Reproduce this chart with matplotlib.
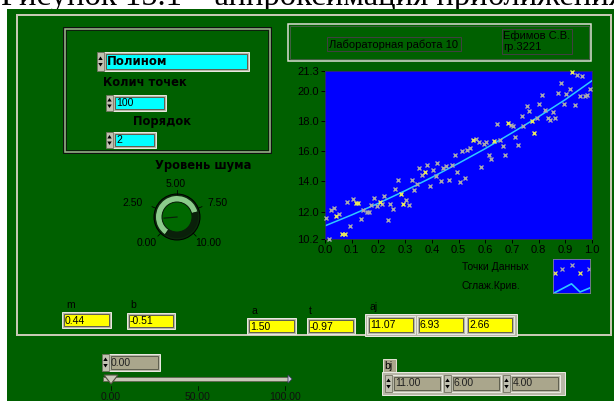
import numpy as np
import matplotlib
matplotlib.use("Agg")
import matplotlib.pyplot as plt
from matplotlib.patches import Rectangle, Circle, Wedge, Polygon

# ---------------- data ----------------
x_pts = [0.004, 0.014, 0.021, 0.035, 0.041, 0.054, 0.062, 0.075, 0.081, 0.094,
         0.103, 0.115, 0.125, 0.133, 0.143, 0.156, 0.165, 0.172, 0.182, 0.196,
         0.206, 0.214, 0.222, 0.236, 0.243, 0.253, 0.262, 0.274, 0.284, 0.294,
         0.304, 0.313, 0.325, 0.333, 0.345, 0.352, 0.364, 0.374, 0.383, 0.395,
         0.403, 0.415, 0.421, 0.434, 0.443, 0.455, 0.465, 0.474, 0.486, 0.493,
         0.505, 0.514, 0.524, 0.532, 0.544, 0.555, 0.564, 0.576, 0.585, 0.595,
         0.603, 0.613, 0.623, 0.633, 0.646, 0.655, 0.665, 0.673, 0.685, 0.695,
         0.704, 0.713, 0.723, 0.736, 0.743, 0.756, 0.763, 0.776, 0.783, 0.794,
         0.803, 0.814, 0.825, 0.835, 0.844, 0.854, 0.863, 0.873, 0.885, 0.894,
         0.904, 0.916, 0.925, 0.935, 0.944, 0.954, 0.963, 0.974, 0.983, 0.994]
y_pts = [11.61, 10.20, 12.09, 12.22, 11.72, 11.83, 10.53, 10.53, 12.62, 11.06,
         12.86, 12.55, 12.55, 11.54, 12.11, 12.00, 11.96, 12.42, 12.93, 12.35,
         12.62, 12.49, 13.04, 11.47, 12.49, 12.16, 13.52, 14.07, 13.17, 12.49,
         12.75, 12.42, 14.07, 13.41, 13.83, 14.90, 14.42, 14.60, 15.06, 13.70,
         14.79, 14.35, 15.19, 14.00, 14.90, 15.01, 14.07, 15.06, 15.78, 14.60,
         13.94, 16.00, 14.24, 16.07, 16.24, 16.71, 16.84, 16.60, 14.97, 16.46,
         16.60, 15.72, 15.50, 16.66, 17.81, 16.71, 16.33, 15.78, 17.89, 17.76,
         17.67, 16.95, 16.40, 18.33, 17.67, 18.97, 18.68, 18.02, 17.19, 18.22,
         19.10, 19.70, 18.75, 18.20, 18.05, 18.62, 18.20, 19.87, 20.49, 19.10,
         19.81, 20.14, 21.23, 19.06, 21.04, 19.65, 20.99, 19.65, 19.72, 20.14]
yellow_idx = [4, 6, 7, 11, 12, 20, 28, 29, 37, 55, 63, 68, 77, 78, 92]

fit_x = [0.0, 0.1, 0.2, 0.3, 0.4, 0.5, 0.6, 0.7, 0.8, 0.9, 1.0]
fit_y = [11.07, 11.79, 12.56, 13.39, 14.27, 15.20, 16.17, 17.21, 18.28, 19.41, 20.66]

x_ticks = [0.0, 0.1, 0.2, 0.3, 0.4, 0.5, 0.6, 0.7, 0.8, 0.9, 1.0]
y_ticks = [10.2, 12.0, 14.0, 16.0, 18.0, 20.0, 21.3]

knob_labels = ["0.00", "2.50", "5.00", "7.50", "10.00"]
slider_ticks = [0, 50, 100]
slider_value = 0.0

m_val, b_val, a_val, t_val = "0.44", "-0.51", "1.50", "-0.97"
aj_vals = ["11.07", "6.93", "2.66"]
bj_vals = ["11.00", "6.00", "4.00"]

# ---------------- figure ----------------
W, H = 614, 401
fig = plt.figure(figsize=(W / 100, H / 100), dpi=100, facecolor="white")
bg = fig.add_axes([0, 0, 1, 1])
bg.set_xlim(0, W)
bg.set_ylim(H, 0)
bg.axis("off")

GREEN = "#006000"
FRAME = "#c8c8b4"
BEIGE = "#aaa68c"
PX = 0.72  # points per pixel

FONT = "Liberation Sans"
BOLD_FONT = "DejaVu Sans"


def rect(x0, y0, x1, y1, fc="none", ec="none", lw=1.0, z=1):
    bg.add_patch(Rectangle((x0, y0), x1 - x0, y1 - y0, facecolor=fc,
                           edgecolor=ec, linewidth=lw * PX, zorder=z))


def text(x, y, s, size=8, weight="normal", ha="left", va="center", color="black", family=FONT, z=5):
    bg.text(x, y, s, fontsize=size, fontweight=weight, ha=ha, va=va,
            color=color, family=family, zorder=z)


def raised_box(x0, y0, x1, y1, fc, z=3):
    rect(x0, y0, x1, y1, fc="#b8b8a8", ec="#e8e8e0", lw=1, z=z)
    rect(x0 + 2, y0 + 2, x1 - 2, y1 - 2, fc=fc, ec="#606050", lw=1, z=z + 0.1)


def spin(x0, y0, y1, z=4):
    w = 7
    rect(x0, y0, x0 + w, y1, fc="#c0c0b0", ec="#707060", lw=0.8, z=z)
    ym = (y0 + y1) / 2
    cx = x0 + w / 2
    bg.add_patch(Polygon([[cx - 2.2, ym - 1.5], [cx + 2.2, ym - 1.5], [cx, ym - 5]],
                         closed=True, fc="black", ec="none", zorder=z + 0.1))
    bg.add_patch(Polygon([[cx - 2.2, ym + 1.5], [cx + 2.2, ym + 1.5], [cx, ym + 5]],
                         closed=True, fc="black", ec="none", zorder=z + 0.1))


# top caption (cropped serif text, as in the source screenshot) and green panel
bg.text(1, 5.5, "Рисунок 15.1 – аппроксимация приближениями", fontsize=23.5,
        family="Liberation Serif", ha="left", va="baseline", color="black", zorder=0)
rect(7, 9, W + 2, H + 2, fc=GREEN, ec="none", z=0.5)

# outer frame
rect(17, 15, 611, 335, ec=FRAME, lw=2, z=1)

# left control box
rect(63, 27, 271, 153, ec="#101010", lw=1, z=1)
rect(64.5, 28.5, 269.5, 151.5, ec="#a8a898", lw=1.5, z=1.1)
rect(66, 30, 268, 150, ec="#101010", lw=0.8, z=1.2)

spin(97, 52, 71)
raised_box(104, 52, 249, 71, "#00ffff")
text(107, 61.5, "Полином", size=8.5, weight="bold", family=BOLD_FONT)
text(103, 83, "Колич точек", size=8.3, weight="bold", family=BOLD_FONT)
spin(106, 95, 111)
raised_box(113, 95, 166, 111, "#00ffff")
text(116, 103, "100", size=7.5)
text(133, 122, "Порядок", size=8.3, weight="bold", family=BOLD_FONT)
spin(106, 132, 148)
raised_box(113, 132, 156, 148, "#00ffff")
text(116, 140, "2", size=7.5)

# knob
text(155, 165, "Уровень шума", size=8.3, weight="bold", family=BOLD_FONT)
kc = (177, 217)
R_out, R_in = 22, 15
bg.add_patch(Circle(kc, R_out + 1, fc="#0c2a0c", ec="black", lw=1 * PX, zorder=3))
# screen angles converted to data angles (y axis inverted)
bg.add_patch(Wedge(kc, R_out - 1, -235, -15, width=R_out - 1 - R_in,
                   fc="#8ccc8c", ec="none", zorder=3.1))
bg.add_patch(Wedge(kc, R_out - 1, -15, 125, width=R_out - 1 - R_in,
                   fc="#0a200a", ec="none", zorder=3.1))
bg.add_patch(Circle(kc, R_in, fc="#006800", ec="#0a200a", lw=1 * PX, zorder=3.2))
ang = np.deg2rad(185)
bg.plot([kc[0], kc[0] + 13 * np.cos(ang)], [kc[1], kc[1] - 13 * np.sin(ang)],
        color="#0a200a", lw=1.2 * PX, zorder=3.3)
for i, lab in enumerate(knob_labels):
    a = np.deg2rad(225 - 67.5 * i)
    x1, y1 = kc[0] + (R_out + 1) * np.cos(a), kc[1] - (R_out + 1) * np.sin(a)
    x2, y2 = kc[0] + (R_out + 5) * np.cos(a), kc[1] - (R_out + 5) * np.sin(a)
    bg.plot([x1, x2], [y1, y2], color="black", lw=0.8 * PX, zorder=3)
label_pos = [(147, 243), (133, 203), (176, 184), (217, 203), (208, 243)]
for (lx, ly), lab in zip(label_pos, knob_labels):
    text(lx, ly, lab, size=7.5, ha="center")

# title box
rect(288, 24, 591, 61, ec="#e0e0d8", lw=1.5, z=1)
rect(290, 26, 589, 59, ec="#506050", lw=0.8, z=1)
rect(327, 37, 461, 51, ec="#404040", lw=1, z=2)
text(329, 44.5, "Лабораторная работа 10", size=8)
rect(502, 29, 572, 54, ec="#404040", lw=1, z=2)
text(503, 35.5, "Ефимов С.В.", size=8)
text(503, 47.5, "гр.3221", size=8)

# ---------------- plot ----------------
L, R, T, B = 325, 592, 71, 239
ax = fig.add_axes([L / W, 1 - B / H, (R - L) / W, (B - T) / H])
ax.set_facecolor("#0000ff")
ax.set_xlim(0, 1.0)
ax.set_ylim(10.2, 21.3)
xp = np.array(x_pts)
yp = np.array(y_pts)
mask = np.zeros(len(xp), bool)
mask[yellow_idx] = True
ax.plot(fit_x, fit_y, color="#30c8ff", lw=1.1, zorder=2)
ax.plot(xp[~mask], yp[~mask], ls="none", marker="x", ms=3, mew=1.0,
        color="#a8a8b0", zorder=3, clip_on=False)
ax.plot(xp[mask], yp[mask], ls="none", marker="x", ms=3, mew=1.0,
        color="#e8e860", zorder=3, clip_on=False)
ax.set_xticks(x_ticks)
ax.set_xticklabels([f"{v:.1f}" for v in x_ticks])
ax.set_yticks(y_ticks)
ax.set_yticklabels([f"{v:.1f}" for v in y_ticks])
ax.tick_params(axis="both", labelsize=8, length=3, width=0.7, color="black",
               pad=1.5, labelcolor="black")
for lab in ax.get_xticklabels() + ax.get_yticklabels():
    lab.set_family(FONT)
for s in ax.spines.values():
    s.set_color("#303060")
    s.set_linewidth(0.6)

# legend
text(462, 267, "Точки Данных", size=7.5)
text(462, 286, "Сглаж.Крив.", size=7.5)
lg = fig.add_axes([553 / W, 1 - 293 / H, 37 / W, 34 / H])
lg.set_facecolor("#0000ff")
lg.set_xlim(0, 1)
lg.set_ylim(0, 1)
lg.set_xticks([])
lg.set_yticks([])
for s in lg.spines.values():
    s.set_color("#8080a0")
    s.set_linewidth(0.6)
lg.plot([0.03, 0.5, 0.73, 1.0], [0.0, 0.27, 0.03, 0.15], color="#30c8ff", lw=1.2)
lg.plot([0.25, 0.5, 0.97], [0.7, 0.82, 0.7], ls="none", marker="x", ms=2.5, mew=0.9, color="#a8a8b0")
lg.plot([0.05, 0.72], [0.58, 0.58], ls="none", marker="x", ms=2.5, mew=0.9, color="#e8e860")

# bottom indicators
text(66, 305, "m", size=7.5)
raised_box(62, 312, 111, 328, "#ffff00")
text(65, 320.5, m_val, size=7.5)
text(130, 305, "b", size=7.5)
raised_box(127, 313, 175, 329, "#ffff00")
text(130, 321.5, b_val, size=7.5)
text(251, 311, "a", size=7.5)
raised_box(247, 318, 296, 334, "#ffff00")
text(250, 326.5, a_val, size=7.5)
text(309, 311, "t", size=7.5)
raised_box(307, 318, 355, 334, "#ffff00")
text(310, 326.5, t_val, size=7.5)
text(369, 307, "aj", size=7.5)
rect(365, 314, 517, 336, fc="#b8b8a8", ec="#e8e8e0", lw=1, z=2)
for i, v in enumerate(aj_vals):
    x0 = 367 + i * 49.5
    raised_box(x0, 316, x0 + 48, 334, "#ffff00")
    text(x0 + 3, 325.5, v, size=7.5)

# slider
spin(102, 354, 371)
raised_box(109, 354, 160, 371, BEIGE)
text(111, 362.5, f"{slider_value:.2f}", size=7.5, color="#202020")


def sx(v):
    return 111 + v * (285 - 111) / 100.0


rect(103, 377, 288, 381, fc="#c8c8b8", ec="#606050", lw=0.8, z=2)
bg.add_patch(Polygon([[288, 375], [288, 383], [292, 379]], closed=True,
                     fc="#d0d0e0", ec="#404060", lw=0.6, zorder=2))
px = sx(slider_value)
bg.add_patch(Polygon([[px - 7, 375], [px + 7, 375], [px, 384]], closed=True,
                     fc="#c8c8b8", ec="#505040", lw=0.8, zorder=3))
for v in slider_ticks:
    bg.plot([sx(v), sx(v)], [386, 390], color="black", lw=0.7 * PX, zorder=2)
    text(sx(v), 397, f"{v:.2f}", size=7.5, ha="center", color="#101010")

# bj
rect(383, 359, 396, 372, fc=BEIGE, ec="#e0e0d0", lw=1, z=2)
text(384, 366, "bj", size=7.5)
rect(382, 372, 565, 395, fc="#b8b8a8", ec="#e8e8e0", lw=1, z=2)
for i, v in enumerate(bj_vals):
    x0 = 385 + i * 59
    spin(x0, 375, 392)
    raised_box(x0 + 7, 375, x0 + 57, 392, BEIGE)
    text(x0 + 10, 383.5, v, size=7.5, color="#202020")

fig.savefig("out.png", dpi=100, facecolor="white")
